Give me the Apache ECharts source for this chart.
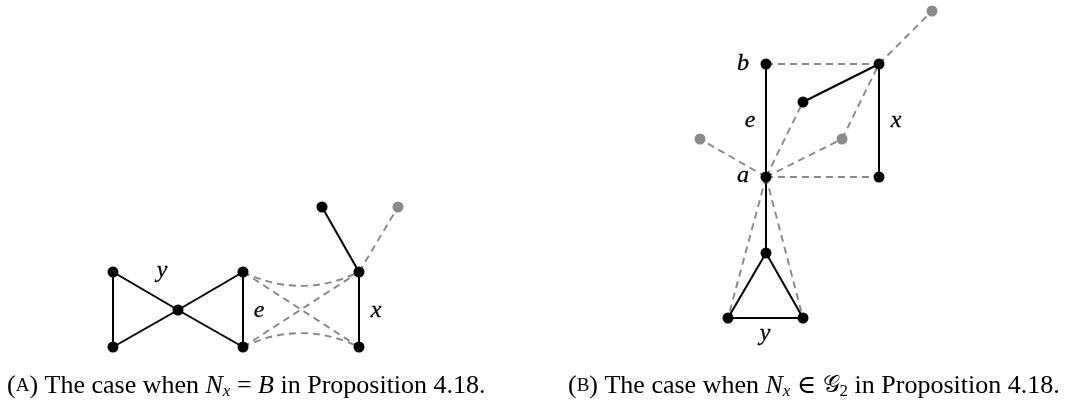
<!DOCTYPE html>
<html><head><meta charset="utf-8">
<script src="https://cdn.jsdelivr.net/npm/echarts@6/dist/echarts.min.js"></script>
<style>html,body{margin:0;padding:0;background:#fff}#c{width:1070px;height:401px}</style>
</head><body><div id="c"></div>
<script>
// Nodes (pixel-space data coordinates)
const nodeNames = ['A1','A2','A3','A4','A5','A6','A7','A8','A9',
                   'B1','B2','B3','B4','B5','B6','B7','B8','B9','B10','B11'];
const nodeX = [113,113,178,243,243,359,359,322,398,
               766,879,803,932,700,842,766,879,766,728,803];
const nodeY = [272,347,310,272,347,272,347,207,207,
               64,64,102,11,139,139,177,177,253,318,318];
const nodeKind = ['k','k','k','k','k','k','k','k','g',
                  'k','k','k','g','g','g','k','k','k','k','k'];
const solidEdges = [['A1','A2'],['A1','A3'],['A2','A3'],['A3','A4'],['A3','A5'],['A4','A5'],['A6','A7'],['A6','A8'],
                    ['B1','B7'],['B2','B8'],['B2','B3'],['B7','B9'],['B9','B10'],['B9','B11'],['B10','B11']];
const dashedEdges = [['A6','A9'],['A4','A7'],['A5','A6'],
                     ['B1','B2'],['B7','B8'],['B7','B3'],['B7','B6'],['B6','B2'],['B7','B5'],['B2','B4'],['B7','B10'],['B7','B11']];
const curvedEdges = [['A4','A6',-0.24],['A5','A7',0.24]];
// Edge / vertex labels
const labelText = ['y','e','x','b','e','x','a','y'];
const labelX = [162,259,376,743,750,896,743,765];
const labelY = [271,311,311,64,121,121,176,334];

const chart = echarts.init(document.getElementById('c'));
const nodes = nodeNames.map((n,i)=>({name:n,value:[nodeX[i],nodeY[i]],
  itemStyle:{color: nodeKind[i]==='g' ? '#8a8a8a' : '#000', opacity:1}}));
const links = [];
solidEdges.forEach(e=>links.push({source:e[0],target:e[1],lineStyle:{color:'#000',width:2,type:'solid',opacity:1}}));
dashedEdges.forEach(e=>links.push({source:e[0],target:e[1],lineStyle:{color:'#888',width:1.9,type:[7,5],opacity:1}}));
curvedEdges.forEach(e=>links.push({source:e[0],target:e[1],lineStyle:{color:'#888',width:1.9,type:[7,5],opacity:1,curveness:e[2]}}));

const serif = '"Liberation Serif","DejaVu Serif",serif';
chart.setOption({
  animation:false,
  grid:{left:0,right:0,top:0,bottom:0},
  xAxis:{type:'value',min:0,max:1070,show:false},
  yAxis:{type:'value',min:0,max:401,inverse:true,show:false},
  series:[
    {type:'graph',coordinateSystem:'cartesian2d',layout:'none',symbol:'circle',symbolSize:11,
     data:nodes,links:links,label:{show:false},emphasis:{disabled:true},z:2,
     lineStyle:{opacity:1}},
    {type:'scatter',symbolSize:0,silent:true,
     data:labelText.map((t,i)=>({value:[labelX[i],labelY[i]],name:t})),
     label:{show:true,position:'inside',formatter:p=>p.name,color:'#000',opacity:1,
       fontFamily:serif,fontStyle:'italic',fontSize:24,textBorderColor:'#000',textBorderWidth:0.3}}
  ],
  graphic:[
    {type:'text',left:7,top:373,style:{
      text:'({sc|A}) The case when {it|N}{sub|x} = {it|B} in Proposition 4.18.',
      fontFamily:serif,fontSize:26,fill:'#000',
      rich:{sc:{fontSize:19,fontFamily:serif},it:{fontStyle:'italic',fontSize:26,fontFamily:serif},
            sub:{fontStyle:'italic',fontSize:17,fontFamily:serif,padding:[12,0,0,0]}}}},
    {type:'text',left:568,top:373,style:{
      text:'({sc|B}) The case when {it|N}{sub|x} ∈ {cal|𝒢}{sub2|2} in Proposition 4.18.',
      fontFamily:serif,fontSize:26,fill:'#000',
      rich:{sc:{fontSize:19,fontFamily:serif},it:{fontStyle:'italic',fontSize:26,fontFamily:serif},
            cal:{fontSize:24,fontFamily:'"DejaVu Serif","DejaVu Sans",serif'},
            sub:{fontStyle:'italic',fontSize:17,fontFamily:serif,padding:[12,0,0,0]},
            sub2:{fontSize:17,fontFamily:serif,padding:[12,0,0,0]}}}}
  ]
});
</script></body></html>
